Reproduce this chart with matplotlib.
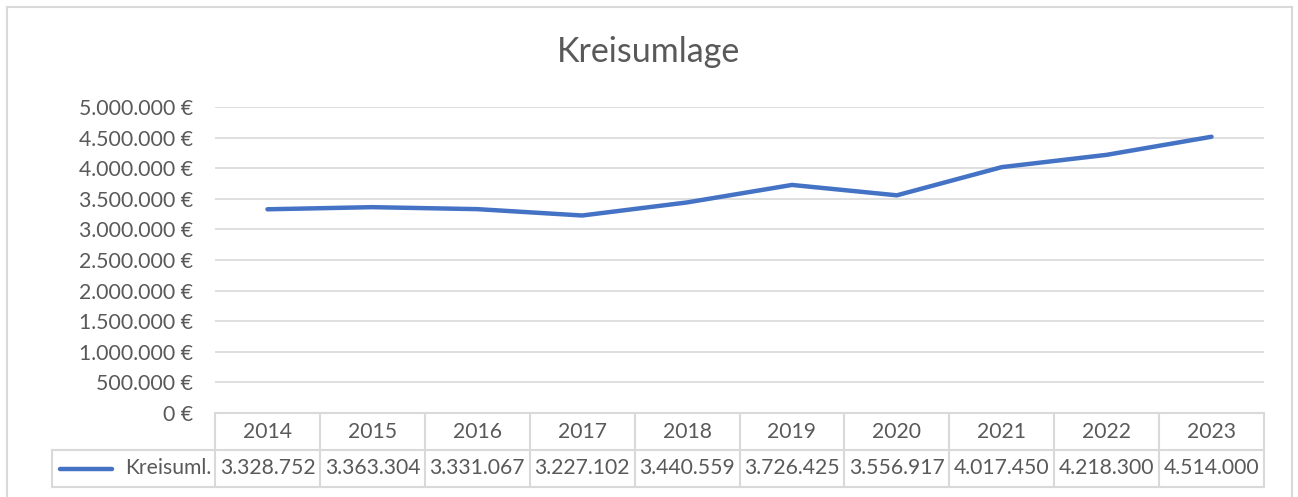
import matplotlib.pyplot as plt
from matplotlib.lines import Line2D
from matplotlib.ticker import FuncFormatter

years = ["2014", "2015", "2016", "2017", "2018", "2019", "2020", "2021", "2022", "2023"]
kreisumlage = [3328752, 3363304, 3331067, 3227102, 3440559, 3726425, 3556917, 4017450, 4218300, 4514000]
series_name = "Kreisuml."
title = "Kreisumlage"

LINE = "#4472C4"
GRID = "#D9D9D9"
TEXT = "#595959"
FONT = ["Lato", "DejaVu Sans"]

plt.rcParams["font.family"] = FONT

W, H = 1298, 497
fig = plt.figure(figsize=(W / 100, H / 100), dpi=100)


def fx(px):
    return px / W


def fy(py):
    return 1 - py / H


def de_num(v):
    return f"{v:,.0f}".replace(",", ".")


# chart frame
for xs, ys in [((7, 7), (505, 7)), ((7, 1292), (7, 7)), ((1292, 1292), (7, 505))]:
    fig.add_artist(Line2D([fx(x) for x in xs], [fy(y) for y in ys], color=GRID, lw=1.5))

fig.text(0.5, fy(52), title, ha="center", va="center", fontsize=24.5, color=TEXT)

# plot area
left, right, top, bottom = 215, 1264, 107, 413
ax = fig.add_axes([fx(left), fy(bottom), fx(right - left), fy(top) - fy(bottom)])
x = list(range(len(years)))
ax.plot(x, kreisumlage, color=LINE, lw=3.2, solid_capstyle="round", zorder=3)
ax.set_xlim(-0.5, len(years) - 0.5)
ax.set_ylim(0, 5000000)
ax.set_yticks(range(0, 5000001, 500000))
ax.yaxis.set_major_formatter(FuncFormatter(lambda v, _: f"{de_num(v)} €"))
ax.grid(axis="y", color=GRID, lw=1.2)
ax.set_axisbelow(True)
ax.set_xticks([])
for s in ax.spines.values():
    s.set_visible(False)
ax.tick_params(axis="y", length=0, pad=16, labelsize=15.3, labelcolor=TEXT)

# data table below the plot
tleft, tmid, tbot = 52, 450, 487
unit = (right - left) / len(years)
x0 = -0.5 - (left - tleft) / unit


def tx(px):
    return x0 + (px - tleft) / unit


tax = fig.add_axes([fx(tleft), fy(tbot), fx(right - tleft), fy(bottom) - fy(tbot)])
tax.set_xlim(x0, len(years) - 0.5)
tax.set_ylim(tbot, bottom)
tax.axis("off")
kw = dict(color=GRID, lw=1.5, clip_on=False)
tax.plot([-0.5, len(years) - 0.5], [bottom, bottom], **kw)
tax.plot([x0, len(years) - 0.5], [tmid, tmid], **kw)
tax.plot([x0, len(years) - 0.5], [tbot, tbot], **kw)
tax.plot([x0, x0], [tmid, tbot], **kw)
for i in range(len(years) + 1):
    tax.plot([i - 0.5, i - 0.5], [bottom, tbot], **kw)

for i, (yr, v) in enumerate(zip(years, kreisumlage)):
    tax.text(i, (bottom + tmid) / 2 + 1, yr, ha="center", va="center", fontsize=15.2, color=TEXT)
    tax.text(i, (tmid + tbot) / 2, de_num(v), ha="center", va="center", fontsize=15.2, color=TEXT)

tax.plot([tx(60), tx(112)], [(tmid + tbot) / 2] * 2, color=LINE, lw=3.2,
         solid_capstyle="round", clip_on=False)
tax.text(tx(211), (tmid + tbot) / 2, series_name, ha="right", va="center",
         fontsize=15.2, color=TEXT)

fig.savefig("out.png", dpi=100, facecolor="white")
